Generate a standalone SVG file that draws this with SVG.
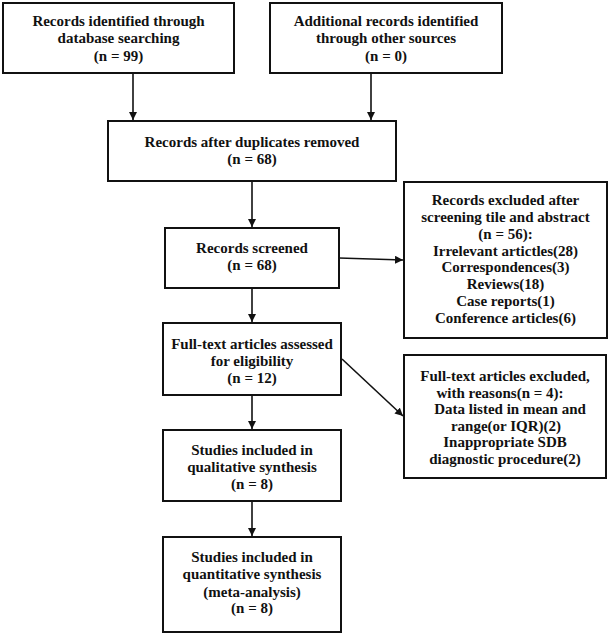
<svg xmlns="http://www.w3.org/2000/svg" width="609" height="635" viewBox="0 0 609 635">
<defs>
<style>
.box{fill:#fff;stroke:#111;stroke-width:2}
.t{font-family:"Liberation Serif","Times New Roman",serif;font-weight:bold;font-size:15px;fill:#111;text-anchor:middle}
.c{stroke:#111;stroke-width:1.6;fill:none}
</style>
<marker id="ah" markerUnits="userSpaceOnUse" markerWidth="9" markerHeight="8" refX="8" refY="4" orient="auto">
<path d="M0,0 L8,4 L0,8 Z" fill="#111"/>
</marker>
</defs>
<rect width="609" height="635" fill="#fff"/>
<g id="connectors">
<line class="c" x1="133" y1="73" x2="133" y2="120" marker-end="url(#ah)"/>
<line class="c" x1="371" y1="73" x2="371" y2="120" marker-end="url(#ah)"/>
<line class="c" x1="252" y1="181" x2="252" y2="227" marker-end="url(#ah)"/>
<line class="c" x1="339" y1="258" x2="403" y2="260" marker-end="url(#ah)"/>
<line class="c" x1="252" y1="288" x2="252" y2="322" marker-end="url(#ah)"/>
<line class="c" x1="342" y1="359" x2="403" y2="416" marker-end="url(#ah)"/>
<line class="c" x1="252" y1="395" x2="252" y2="429" marker-end="url(#ah)"/>
<line class="c" x1="252" y1="501" x2="252" y2="536" marker-end="url(#ah)"/>
</g>
<g id="n1">
<rect class="box" x="3" y="3" width="231" height="70"/>
<text class="t" x="118.5" y="26">Records identified through</text>
<text class="t" x="118.5" y="43">database searching</text>
<text class="t" x="118.5" y="61">(n = 99)</text>
</g>
<g id="n2">
<rect class="box" x="270" y="3" width="232" height="70"/>
<text class="t" x="386" y="26">Additional records identified</text>
<text class="t" x="386" y="43">through other sources</text>
<text class="t" x="386" y="61">(n = 0)</text>
</g>
<g id="n3">
<rect class="box" x="108" y="121" width="288" height="60"/>
<text class="t" x="252" y="147">Records after duplicates removed</text>
<text class="t" x="252" y="164">(n = 68)</text>
</g>
<g id="n4">
<rect class="box" x="165" y="228" width="174" height="60"/>
<text class="t" x="252" y="253">Records screened</text>
<text class="t" x="252" y="270">(n = 68)</text>
</g>
<g id="n5">
<rect class="box" x="404" y="182" width="203" height="156"/>
<text class="t" x="505.5" y="205">Records excluded after</text>
<text class="t" x="505.5" y="222">screening tile and abstract</text>
<text class="t" x="505.5" y="239">(n = 56):</text>
<text class="t" x="505.5" y="256">Irrelevant artictles(28)</text>
<text class="t" x="505.5" y="272">Correspondences(3)</text>
<text class="t" x="505.5" y="289">Reviews(18)</text>
<text class="t" x="505.5" y="306">Case reports(1)</text>
<text class="t" x="505.5" y="323">Conference articles(6)</text>
</g>
<g id="n6">
<rect class="box" x="163" y="323" width="178" height="72"/>
<text class="t" x="252" y="349">Full-text articles assessed</text>
<text class="t" x="252" y="366">for eligibility</text>
<text class="t" x="252" y="383">(n = 12)</text>
</g>
<g id="n7">
<rect class="box" x="404" y="355" width="202" height="123"/>
<text class="t" x="505" y="381">Full-text articles excluded,</text>
<text class="t" x="500" y="398">with reasons(n = 4):</text>
<text class="t" x="510" y="414">Data listed in mean and</text>
<text class="t" x="506" y="431">range(or IQR)(2)</text>
<text class="t" x="505" y="447">Inappropriate SDB</text>
<text class="t" x="505" y="464">diagnostic procedure(2)</text>
</g>
<g id="n8">
<rect class="box" x="163" y="430" width="178" height="71"/>
<text class="t" x="252" y="455">Studies included in</text>
<text class="t" x="252" y="472">qualitative synthesis</text>
<text class="t" x="252" y="489">(n = 8)</text>
</g>
<g id="n9">
<rect class="box" x="163" y="537" width="178" height="95"/>
<text class="t" x="252" y="562">Studies included in</text>
<text class="t" x="252" y="579">quantitative synthesis</text>
<text class="t" x="252" y="597">(meta-analysis)</text>
<text class="t" x="252" y="613">(n = 8)</text>
</g>
</svg>
